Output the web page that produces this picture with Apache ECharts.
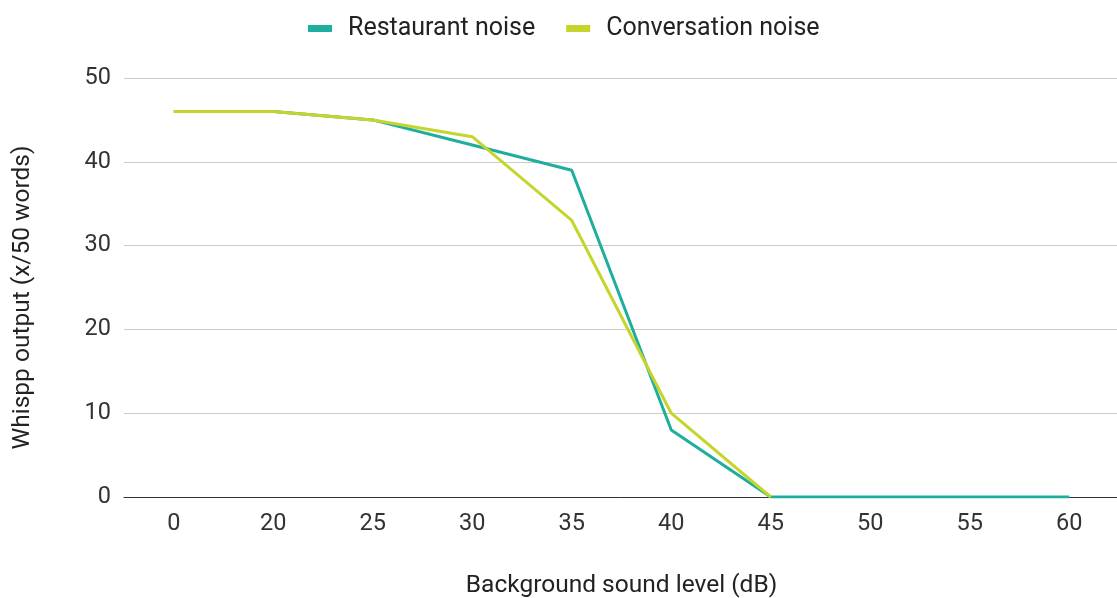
<!DOCTYPE html>
<html><head><meta charset="utf-8">
<script src="https://cdn.jsdelivr.net/npm/echarts@6/dist/echarts.min.js"></script>
<style>html,body{margin:0;padding:0;background:#fff}#c{width:1117px;height:598px}</style>
</head><body><div id="c"></div>
<script>
const categories = ['0','20','25','30','35','40','45','50','55','60'];
const restaurantNoise = [46, 46, 45, 42, 39, 8, 0, 0, 0, 0];
const conversationNoise = [46, 46, 45, 43, 33, 10, 0, null, null, null];
const seriesNames = ['Restaurant noise', 'Conversation noise'];
const font = 'Roboto, "Liberation Sans", Arial, sans-serif';
const chart = echarts.init(document.getElementById('c'));
chart.setOption({
  animation: false,
  textStyle: {fontFamily: font},
  legend: {
    top: 11, left: 303, itemGap: 31, itemWidth: 24, itemHeight: 7,
    icon: 'rect',
    textStyle: {fontSize: 25, color: '#222', fontFamily: font, padding: [0,0,0,11]},
    data: seriesNames
  },
  grid: {left: 124, right: -2, top: 78, bottom: 101, containLabel: false, outerBoundsMode: 'none'},
  xAxis: {
    type: 'category', data: categories, boundaryGap: true,
    name: 'Background sound level (dB)', nameLocation: 'middle', nameGap: 76,
    nameTextStyle: {fontSize: 24.5, color: '#222', fontFamily: font},
    axisLine: {lineStyle: {color: '#333', width: 1}},
    axisTick: {show: false},
    axisLabel: {fontSize: 23.5, color: '#333', margin: 15, fontFamily: font}
  },
  yAxis: {
    type: 'value', min: 0, max: 50, interval: 10,
    name: 'Whispp output (x/50 words)', nameLocation: 'middle', nameGap: 89, nameRotate: 90,
    nameTextStyle: {fontSize: 24.5, color: '#222', fontFamily: font, padding: [0, 20, 0, 0]},
    axisLine: {show: false}, axisTick: {show: false},
    axisLabel: {fontSize: 23.5, color: '#333', margin: 13, fontFamily: font},
    splitLine: {lineStyle: {color: '#cccccc', width: 1}}
  },
  series: [
    {name: seriesNames[0], type: 'line', data: restaurantNoise, showSymbol: false, symbol: 'none',
     color: '#1fae9e', lineStyle: {width: 3, color: '#1fae9e'}},
    {name: seriesNames[1], type: 'line', data: conversationNoise, showSymbol: false, symbol: 'none',
     color: '#c5d52b', lineStyle: {width: 3, color: '#c5d52b'}}
  ]
});
</script></body></html>
